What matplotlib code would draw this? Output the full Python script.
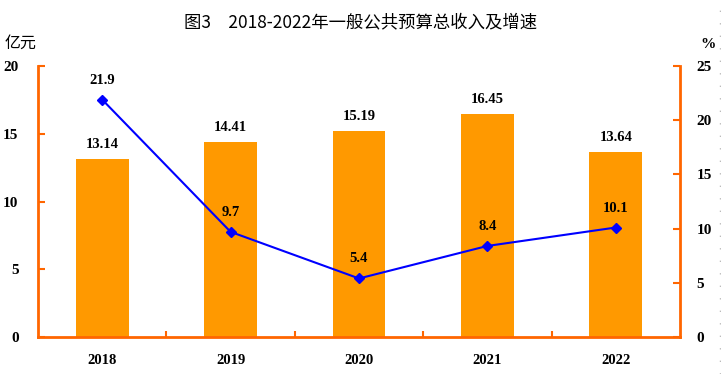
import matplotlib
matplotlib.use("Agg")
import matplotlib.pyplot as plt
from matplotlib.lines import Line2D

years = ["2018", "2019", "2020", "2021", "2022"]
revenue = [13.14, 14.41, 15.19, 16.45, 13.64]
growth = [21.9, 9.7, 5.4, 8.4, 10.1]
title = "图3　2018-2022年一般公共预算总收入及增速"

serif = ["Liberation Serif", "Noto Sans CJK SC"]
cjk = ["Noto Sans CJK SC", "DejaVu Sans"]
axis_color = "#FF6600"
bar_color = "#FF9900"
line_color = "#0000FF"

fig = plt.figure(figsize=(7.21, 3.74), dpi=100)
ax = fig.add_axes([38/721, 1-337/374, (680-38)/721, (337-66)/374])
ax2 = ax.twinx()

x = list(range(len(years)))
ax.bar(x, revenue, width=0.41, color=bar_color, zorder=2)
ax.set_xlim(-0.5, len(years)-0.5)
ax.set_ylim(0, 20)
ax.set_yticks([0, 5, 10, 15, 20])
ax2.set_ylim(0, 25)
ax2.set_yticks([0, 5, 10, 15, 20, 25])

for xi, v in zip(x, revenue):
    ax.text(xi, v + 0.6, f"{v:.2f}", ha="center", va="bottom",
            fontsize=10.5, fontweight="bold", family=serif)

ax2.plot(x, growth, color=line_color, lw=1.5, marker="D", ms=5,
         markerfacecolor=line_color, zorder=3)
for xi, v in zip(x, growth):
    ax2.text(xi, v + 1.2, f"{v}", ha="center", va="bottom",
             fontsize=10.5, fontweight="bold", family=serif)

ax.set_xticks([i + 0.5 for i in range(len(years)-1)], minor=False)
ax.set_xticklabels([])
ax.set_xticks(x, minor=True)
ax.set_xticklabels(years, minor=True, fontsize=10.5, fontweight="bold", family=serif)
ax.tick_params(axis="x", which="major", direction="in", length=4, width=1.5, color=axis_color)
ax.tick_params(axis="x", which="minor", length=0, pad=12)

ax.tick_params(axis="y", direction="in", length=5, width=1.5, color=axis_color, pad=14)
ax2.tick_params(axis="y", direction="in", length=5, width=1.5, color=axis_color, pad=12)
for lab in ax.get_yticklabels() + ax2.get_yticklabels():
    lab.set_fontsize(11)
    lab.set_fontweight("bold")
    lab.set_family(serif)

for a in (ax, ax2):
    a.spines["top"].set_visible(False)
    for s in ("left", "right", "bottom"):
        a.spines[s].set_color(axis_color)
        a.spines[s].set_linewidth(2)
ax.spines["right"].set_visible(False)
ax2.spines["left"].set_visible(False)
ax2.spines["bottom"].set_visible(False)

fig.text(0.5, 1-22/374, title, ha="center", va="center", fontsize=12.5,
         fontweight="medium", family=cjk)
fig.text(5/721, 1-43/374, "亿元", ha="left", va="center", fontsize=11.5,
         fontweight="medium", family=cjk)
fig.text(700/721, 1-44/374, "%", ha="left", va="center", fontsize=11,
         fontweight="bold", family=serif)

fig.add_artist(Line2D([719.5/721, 719.5/721], [0, 1], transform=fig.transFigure,
                      color="#BBBBBB", lw=1, ls=(0, (1, 8))))

fig.savefig("out.png", dpi=100)
